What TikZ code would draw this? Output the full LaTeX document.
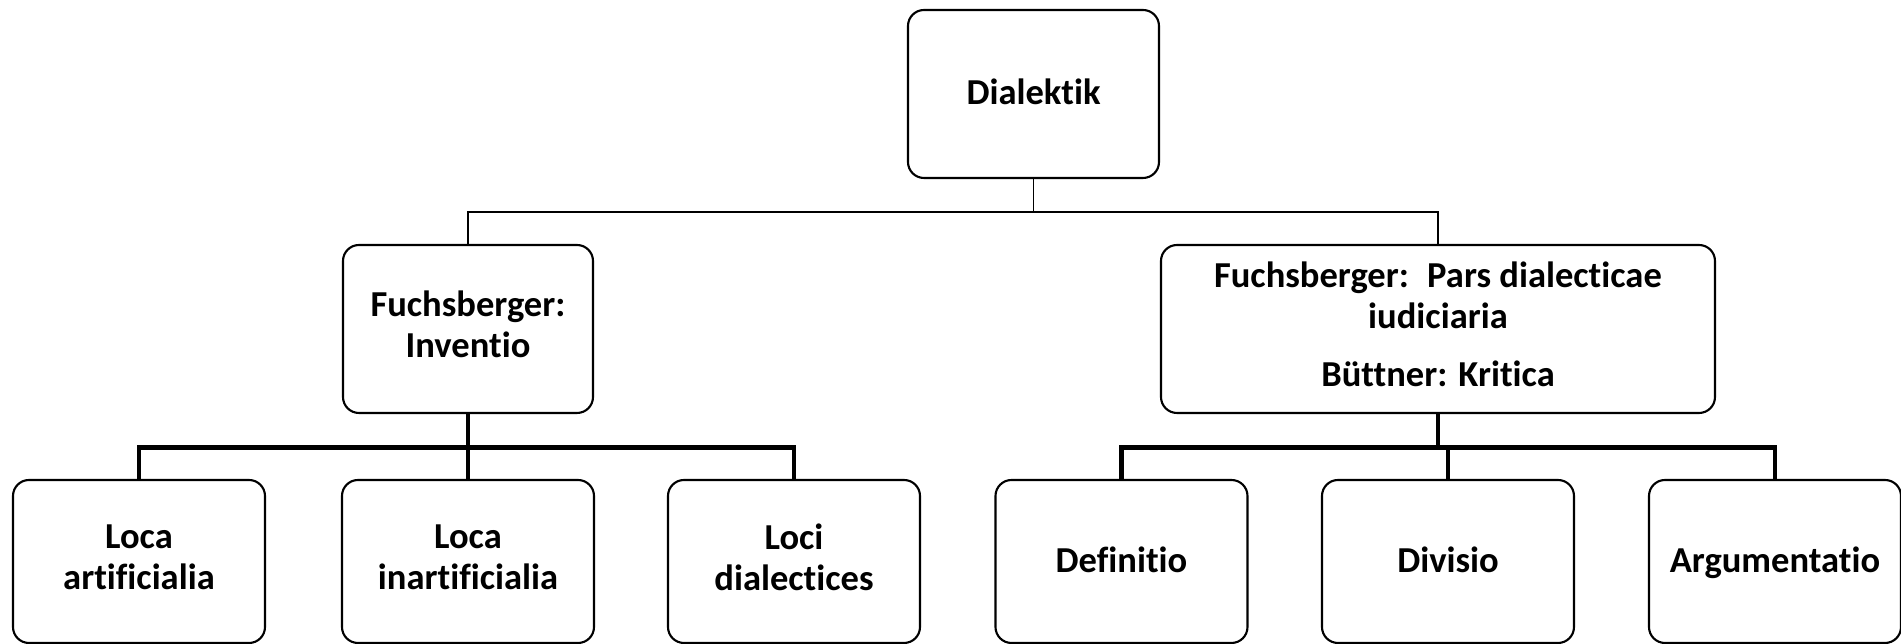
\documentclass[tikz,border=0pt]{standalone}
\usepackage{fontspec}
\setmainfont{Carlito}[RawFeature={-liga,-clig}]
\usetikzlibrary{positioning}
\newcommand{\boxstrut}{\vrule height 8.6pt depth 2.6pt width 0pt}
\tikzset{
	box/.style={draw=black, line width=0.6pt, rounded corners=0.16cm, align=center,
		font=\fontsize{10.4}{11.7}\selectfont\bfseries, inner sep=0pt,
		execute at begin node=\boxstrut, execute at end node=\boxstrut},
	midbox/.style={box, minimum width=2.5cm, minimum height=1.68cm},
	leafbox/.style={box, minimum width=2.52cm, minimum height=1.63cm},
	thinlink/.style={line width=0.5pt},
	thicklink/.style={line width=1.4pt}
}

\begin{document}
\begin{tikzpicture}
			%%%%% START %%%%%
			
			\useasboundingbox (0, 0) rectangle (19.01, 6.44);
			
			\node[midbox, minimum width=2.51cm] (dialektik) at (10.335, 5.50) {Dialektik};
			
			\node[midbox] (inventio) at (4.68, 3.15) {Fuchsberger:\\Inventio};
			\node[midbox, minimum width=5.54cm] (iudicium) at (14.38, 3.15)
				{Fuchsberger:\hspace{0.2em} Pars dialecticae\\iudiciaria\\[0.17cm]Büttner: Kritica};
			
			\node[leafbox] (artificialia) at (1.39, 0.825) {Loca\\artificialia};
			\node[leafbox] (inartificialia) at (4.68, 0.825) {Loca\\inartificialia};
			\node[leafbox] (dialectices) at (7.94, 0.825) {Loci\\dialectices};
			
			\node[leafbox] (definitio) at (11.215, 0.825) {Definitio};
			\node[leafbox] (divisio) at (14.48, 0.825) {Divisio};
			\node[leafbox] (argumentatio) at (17.75, 0.825) {Argumentatio};
			
			% top level
			\draw[thinlink] (dialektik.south) -- ++(0, -0.33) coordinate (top);
			\draw[thinlink] (inventio.north) |- (top) -| (iudicium.north);
			
			% left branch
			\draw[thicklink] (inventio.south) -- ++(0, -0.335) coordinate (left);
			\draw[thicklink] (artificialia.north) |- (left) -| (dialectices.north);
			\draw[thicklink] (left) -- (inartificialia.north);
			
			% right branch
			\draw[thicklink] (iudicium.south) -- ++(0, -0.335) coordinate (right);
			\draw[thicklink] (definitio.north) |- (right) -| (argumentatio.north);
			\draw[thicklink] (right -| divisio.north) -- (divisio.north);
			
			%%%%% END %%%%%
		\end{tikzpicture}
\end{document}
